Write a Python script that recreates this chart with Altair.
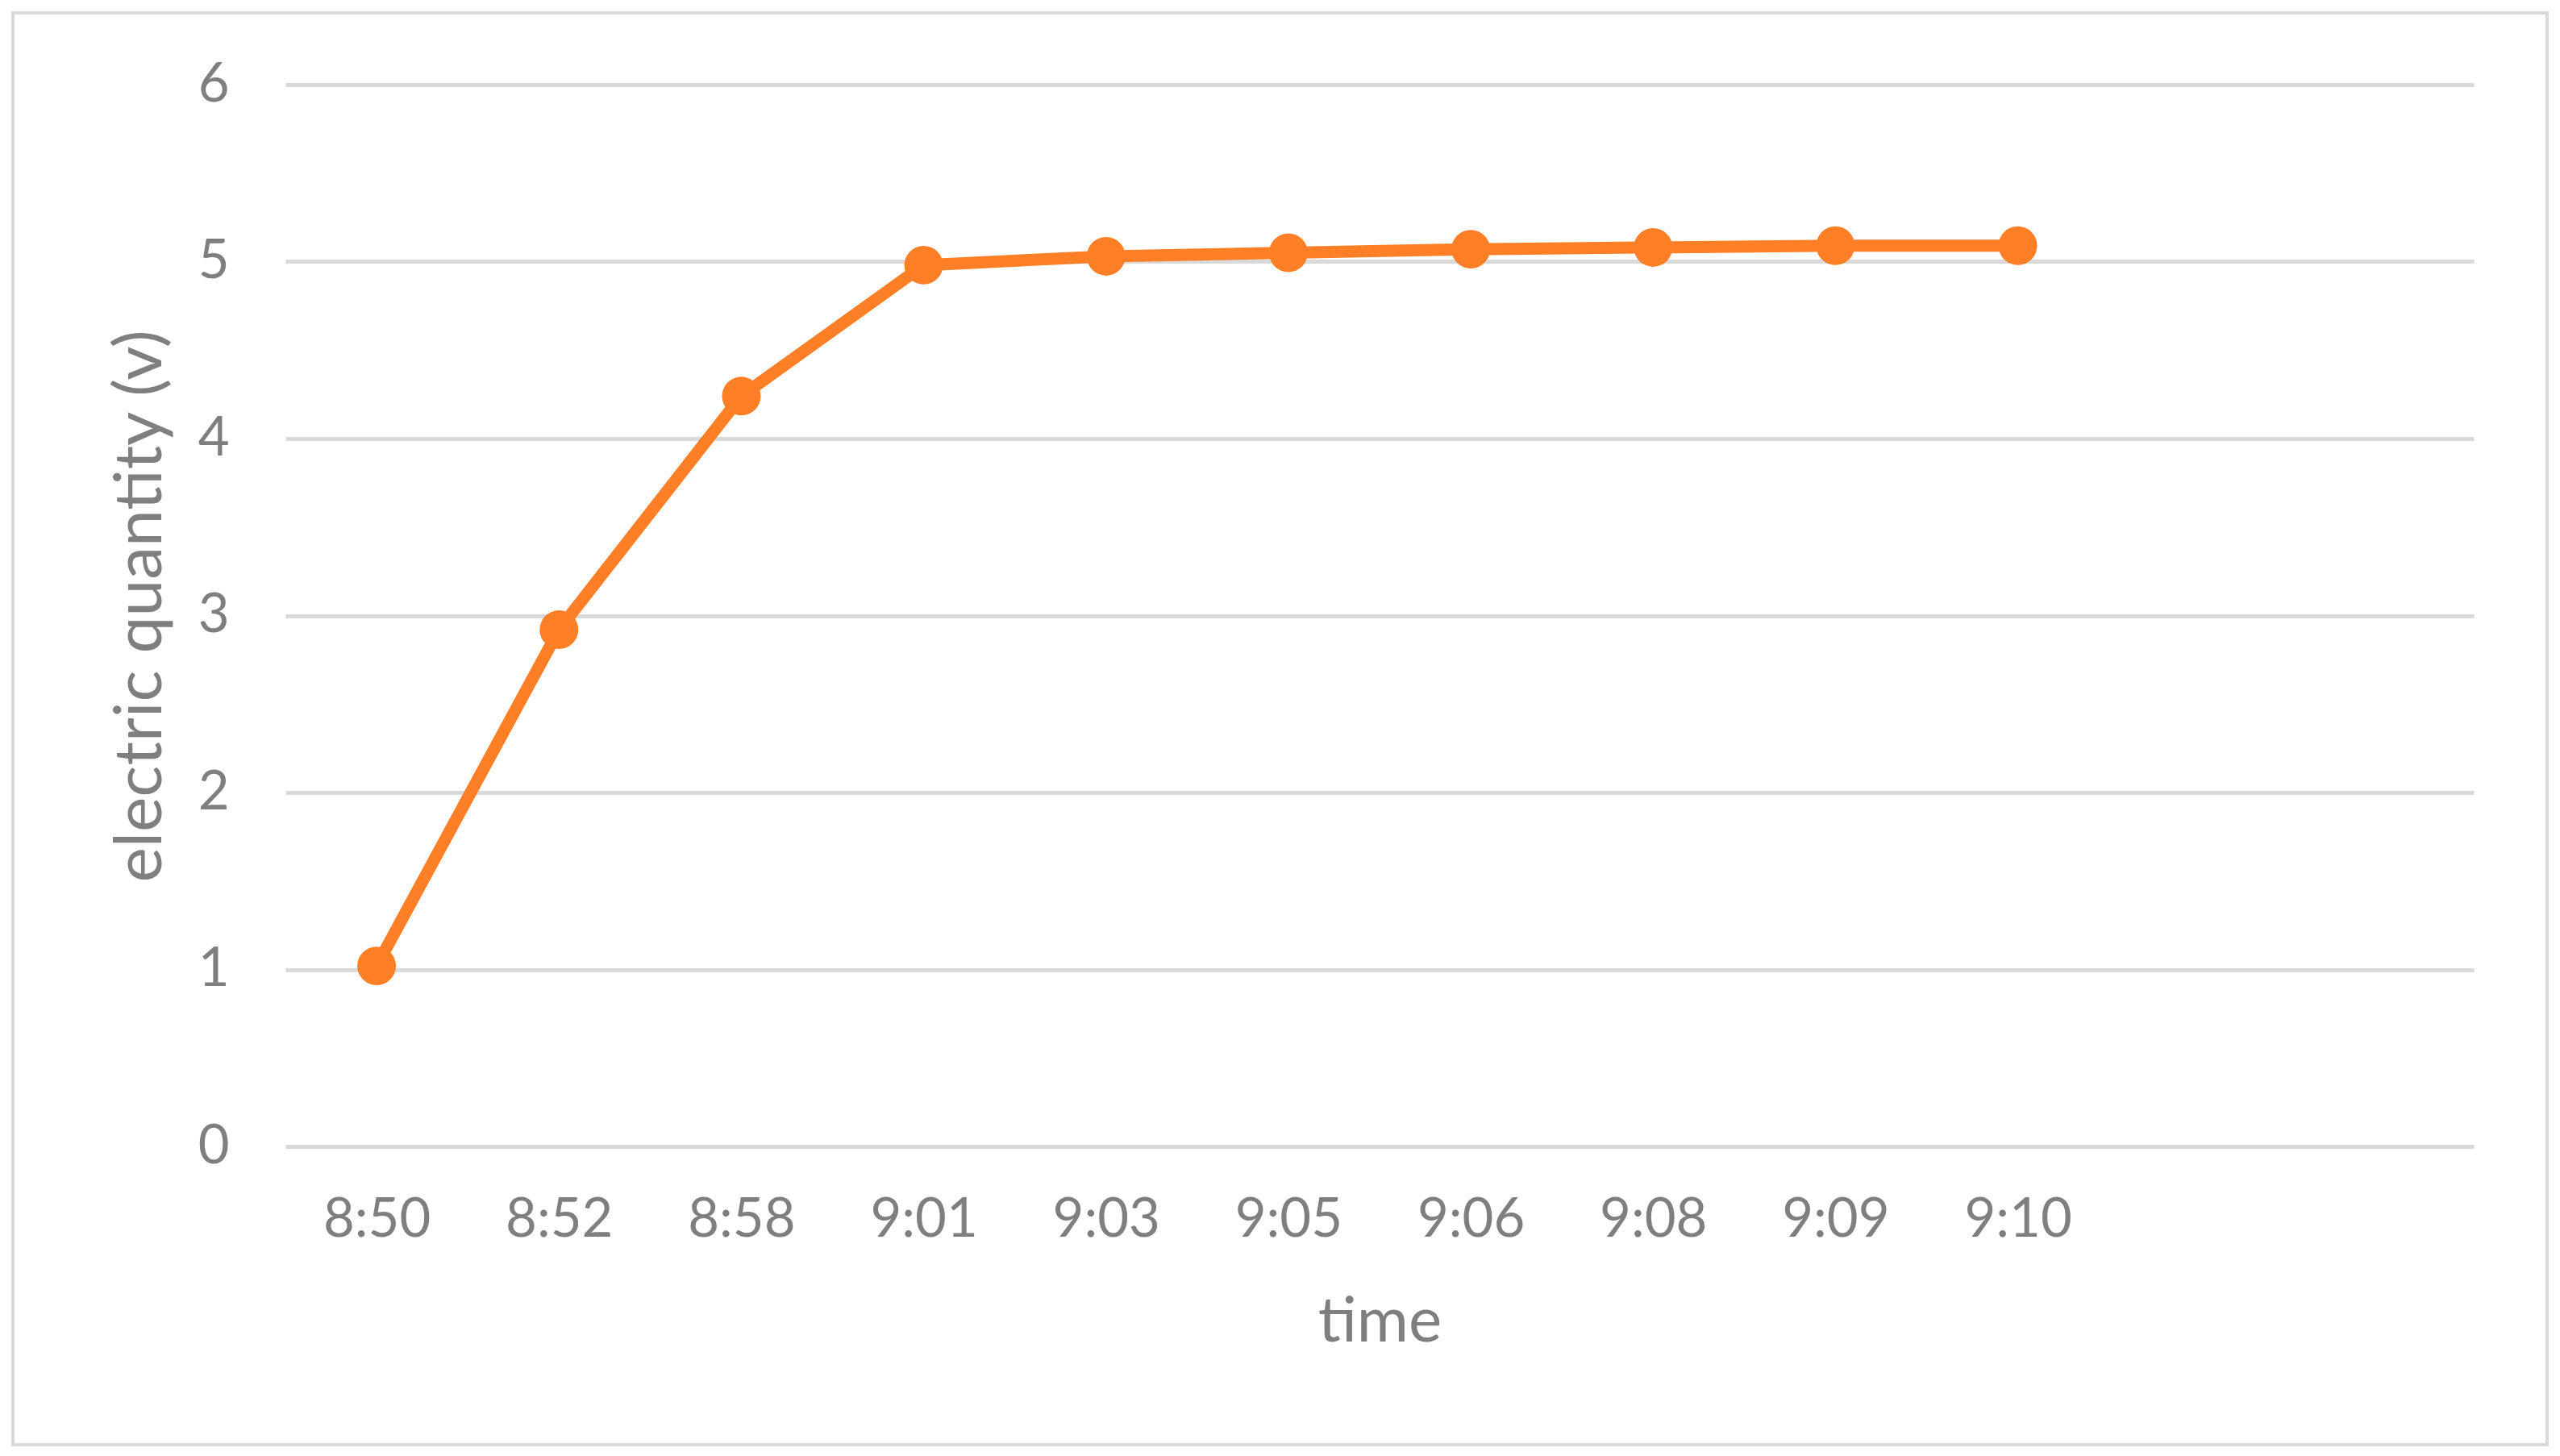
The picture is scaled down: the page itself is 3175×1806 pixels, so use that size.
import altair as alt
import pandas as pd

times = ["8:50", "8:52", "8:58", "9:01", "9:03", "9:05", "9:06", "9:08", "9:09", "9:10"]
values = [1.02, 2.92, 4.24, 4.98, 5.03, 5.05, 5.07, 5.08, 5.09, 5.09]
empty_slots = [" ", "  "]
y_ticks = [0, 1, 2, 3, 4, 5, 6]

df = pd.DataFrame({"time": times, "value": values})
domain = times + empty_slots

FONT = "Lato"
GRAY = "#7f7f7f"
ORANGE = "#FF7F27"
W, H = 2714, 1317

x_enc = alt.X(
    "time:O",
    scale=alt.Scale(type="point", domain=domain, padding=0.5),
    sort=domain,
    axis=alt.Axis(
        title="time", labelAngle=0, grid=False, ticks=False, domain=False,
        labelFont=FONT, labelFontSize=67, labelColor=GRAY, labelPadding=58,
        titleFont=FONT, titleFontSize=78, titleFontWeight="normal", titleColor=GRAY,
        titleX=W / 2, titleY=218, titleBaseline="middle", titleAlign="center",
    ),
)
y_enc = alt.Y(
    "value:Q",
    scale=alt.Scale(domain=[0, 6], nice=False),
    axis=alt.Axis(
        title="electric quantity (v)", values=y_ticks, grid=True, gridColor="#d9d9d9",
        gridWidth=5, ticks=False, domain=False,
        labelFont=FONT, labelFontSize=67, labelColor=GRAY, labelPadding=70,
        titleFont=FONT, titleFontSize=82, titleFontWeight="normal", titleColor=GRAY,
        titleAngle=-90, titleX=-180, titleY=H / 2 - 12, titleBaseline="middle", titleAlign="center",
    ),
)

border = alt.Chart(alt.Data(values=[{}])).mark_rect(
    fill="transparent", stroke="#d9d9d9", strokeWidth=4
).encode(
    x=alt.value(-338), x2=alt.value(2805), y=alt.value(-89), y2=alt.value(1687)
)

line = alt.Chart(df).mark_line(color=ORANGE, strokeWidth=15).encode(x=x_enc, y=y_enc)
pts = alt.Chart(df).mark_circle(color=ORANGE, size=2300, opacity=1).encode(x=x_enc, y=y_enc)

chart = alt.layer(border, line, pts).properties(
    width=W, height=H,
    background="white",
    autosize=alt.AutoSizeParams(type="none"),
    padding={"left": 346, "top": 97, "right": 99, "bottom": 376},
).configure_view(strokeWidth=0, stroke=None)

chart.save("out.html", embed_options={"renderer": "svg", "actions": False})
